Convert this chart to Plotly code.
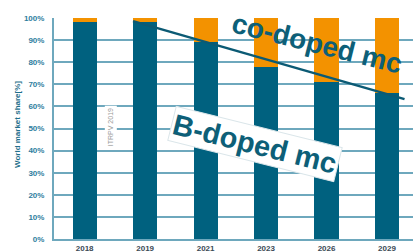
import plotly.graph_objects as go

years = ["2018", "2019", "2021", "2023", "2026", "2029"]
b_doped = [98, 98, 89, 78, 71, 66]
co_doped = [2, 2, 11, 22, 29, 34]
trend_x = [0.8, 5.29]
trend_y = [98.6, 63.3]
y_ticks = [0, 10, 20, 30, 40, 50, 60, 70, 80, 90, 100]
y_labels = [f"{v}%" for v in y_ticks]

TEAL = "#00617f"
ORANGE = "#f39200"
GRID = "#6ea8bd"
FONT = "Liberation Sans"

xs = list(range(len(years)))

fig = go.Figure()
fig.add_trace(go.Bar(x=xs, y=b_doped, marker=dict(color=TEAL, line=dict(width=0)),
                     width=0.4, name="B-doped mc"))
fig.add_trace(go.Bar(x=xs, y=co_doped, marker=dict(color=ORANGE, line=dict(width=0)),
                     width=0.4, name="co-doped mc"))
fig.add_trace(go.Scatter(x=trend_x, y=trend_y, mode="lines",
                         line=dict(color="#0b5a74", width=2.5), hoverinfo="skip"))

fig.update_layout(
    barmode="stack",
    width=413, height=252,
    margin=dict(l=54, r=0, t=18, b=13, autoexpand=False),
    paper_bgcolor="white", plot_bgcolor="white",
    showlegend=False,
    font=dict(family=FONT),
    xaxis=dict(
        range=[-0.507, 5.43],
        tickvals=xs, ticktext=years,
        showgrid=False, zeroline=False,
        showline=True, linecolor=GRID, linewidth=2,
        tickfont=dict(family=FONT, size=8, color="#3b4a55", weight="bold"),
        ticks="", ticklabelstandoff=0, automargin=False,
    ),
    yaxis=dict(
        range=[0, 100],
        tickvals=y_ticks, ticktext=y_labels,
        showgrid=True, gridcolor=GRID, gridwidth=2,
        zeroline=False,
        showline=True, linecolor=GRID, linewidth=2,
        tickfont=dict(family=FONT, size=8, color="#2e7d9e", weight="bold"),
        ticks="", ticklabelstandoff=6, automargin=False,
    ),
)

fig.add_annotation(
    text="World market share[%]", textangle=-90,
    xref="paper", yref="paper", x=(18 - 54) / 359, y=(239 - 125) / 221,
    xanchor="center", yanchor="middle", showarrow=False,
    font=dict(family=FONT, size=8, color="#1f6f8b", weight="bold"),
)

fig.add_annotation(
    text="ITRPV 2019", textangle=-90,
    xref="x", yref="y", x=0.44, y=50.7,
    xanchor="center", yanchor="middle", showarrow=False,
    bgcolor="white", borderpad=2,
    font=dict(family=FONT, size=7, color="#9a9a9a"),
)

fig.add_annotation(
    text="<b>co-doped mc</b>", textangle=14,
    xref="x", yref="y", x=3.84, y=88.6,
    xanchor="center", yanchor="middle", showarrow=False,
    font=dict(family=FONT, size=28, color="#0d5f78"),
)

fig.add_annotation(
    text="<b>B-doped mc</b>", textangle=14,
    xref="x", yref="y", x=2.815, y=43.0,
    xanchor="center", yanchor="middle", showarrow=False,
    bgcolor="white", bordercolor="#dbe6ea", borderwidth=1, borderpad=1,
    font=dict(family=FONT, size=29, color="#0d5f78"),
)

fig.write_html("out.html", config={"displayModeBar": False},
               post_script="document.body.style.margin='0';document.body.style.overflow='hidden';")
